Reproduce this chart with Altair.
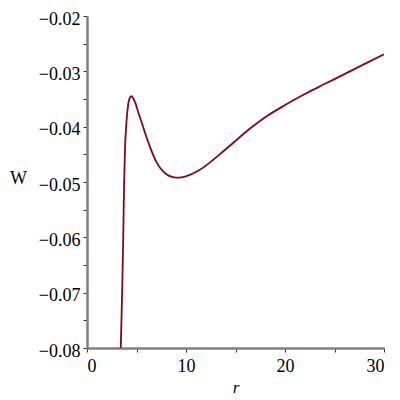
import altair as alt
import pandas as pd

r_vals = [3.41, 3.55, 3.66, 3.75, 3.84, 3.99, 4.15, 4.30, 4.49, 4.68, 4.90, 5.16,
          5.50, 5.84, 6.35, 7.02, 7.69, 8.30, 9.00, 9.70, 10.40, 11.40, 12.40,
          13.40, 14.40, 16.5, 18.0, 20.0, 22.0, 24.0, 26.0, 28.0, 30.0]
w_vals = [-0.0800, -0.0700, -0.0600, -0.0500, -0.0440, -0.0391, -0.0361, -0.0349,
          -0.0345, -0.0349, -0.0358, -0.0373, -0.0391, -0.0410, -0.0436, -0.0464,
          -0.0481, -0.0489, -0.0492, -0.0491, -0.0487, -0.0478, -0.0465, -0.0450,
          -0.0435, -0.0403, -0.0383, -0.0361, -0.0341, -0.0323, -0.0305, -0.0287,
          -0.0269]

x_ticks = [0, 5, 10, 15, 20, 25, 30]
y_ticks = [-0.08, -0.075, -0.07, -0.065, -0.06, -0.055, -0.05, -0.045, -0.04,
           -0.035, -0.03, -0.025, -0.02]

df = pd.DataFrame({"r": r_vals, "W": w_vals})

chart = alt.Chart(df).mark_line(
    color="#7d0a1e", strokeWidth=1.8, interpolate="monotone", clip=True
).encode(
    x=alt.X("r:Q", scale=alt.Scale(domain=[0, 30], nice=False, zero=False),
            axis=alt.Axis(values=x_ticks, title="r", grid=False,
                          labelExpr="datum.value % 10 == 0 ? datum.label : ''",
                          titleFontStyle="italic", titleFontWeight="normal",
                          titleFontSize=17, titlePadding=4, labelPadding=5)),
    y=alt.Y("W:Q", scale=alt.Scale(domain=[-0.08, -0.02], nice=False, zero=False),
            axis=alt.Axis(values=y_ticks, title="W", grid=False, format=".2f",
                          labelExpr="round(abs(datum.value)*1000) % 10 == 0 ? datum.label : ''",
                          labelOffset=3,
                          titleAngle=0, titleX=-69, titleY=162, titleAlign="center",
                          titleBaseline="middle", titleFontWeight="normal",
                          titleFontSize=18, labelPadding=3)),
).properties(
    width=297, height=332,
    autosize=alt.AutoSizeParams(type="none"),
    padding={"left": 79, "top": 8, "right": 8, "bottom": 50},
    background="white",
).configure_view(stroke=None).configure_axis(
    labelFont="Liberation Serif", titleFont="Liberation Serif",
    labelFontSize=18, labelColor="black", titleColor="black",
    domainColor="#808080", domainWidth=2.5, tickColor="#333333",
    tickSize=4, tickWidth=1,
)

chart.save("out.html", embed_options={"renderer": "svg", "actions": False})
